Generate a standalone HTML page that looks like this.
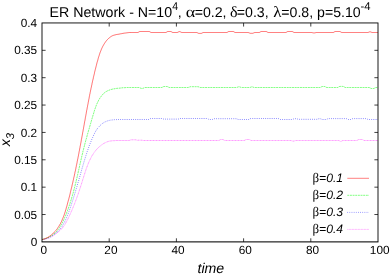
<!DOCTYPE html>
<html><head><meta charset="utf-8"><style>
html,body{margin:0;padding:0;background:#fff;}
svg{display:block;font-family:"Liberation Sans",sans-serif;will-change:transform;opacity:0.999;}
text{text-rendering:geometricPrecision;}
</style></head><body>
<svg width="392" height="274" viewBox="0 0 392 274">
<g font-size="11.8" fill="#000">
<text x="49.54" y="17.4" font-size="14.2">ER Network - N=10</text><text transform="translate(172.30,10.1) scale(0.93,1)" font-size="11.3">4</text><text x="177.83" y="17.4" font-size="14.13">,</text><text transform="translate(185.71,17.4) scale(1.17,1)" font-family="Liberation Serif" font-size="15.5">α</text><text x="194.70" y="17.4" font-size="14.13">=0.2,</text><text transform="translate(230.09,17.4) scale(1.04,1)" font-family="Liberation Serif" font-size="15.4">δ</text><text x="236.80" y="17.4" font-size="14.13">=0.3,</text><text transform="translate(273.16,17.4) scale(1.1,1)" font-family="Liberation Serif" font-size="15.5">λ</text><text x="281.30" y="17.4" font-size="14.13">=0.8, p=5.10</text><text transform="translate(360.50,10.1) scale(1.0,1)" font-size="11.3">-4</text>
<text x="43.7" y="253.55" text-anchor="middle">0</text><text x="110.9" y="253.55" text-anchor="middle">20</text><text x="178.1" y="253.55" text-anchor="middle">40</text><text x="245.3" y="253.55" text-anchor="middle">60</text><text x="312.5" y="253.55" text-anchor="middle">80</text><text x="379.7" y="253.55" text-anchor="middle">100</text><text x="37.2" y="246.0" text-anchor="end">0</text><text x="37.2" y="218.6" text-anchor="end">0.05</text><text x="37.2" y="191.3" text-anchor="end">0.1</text><text x="37.2" y="163.9" text-anchor="end">0.15</text><text x="37.2" y="136.5" text-anchor="end">0.2</text><text x="37.2" y="109.2" text-anchor="end">0.25</text><text x="37.2" y="81.8" text-anchor="end">0.3</text><text x="37.2" y="54.4" text-anchor="end">0.35</text><text x="37.2" y="27.0" text-anchor="end">0.4</text>
<text x="210.8" y="272.8" text-anchor="middle" font-style="italic" font-size="14.13">time</text>
<text transform="translate(9.8,139.5) rotate(-90)" text-anchor="middle" font-style="italic" font-size="14.13">x<tspan dy="4.2" font-size="11.3">3</tspan></text>
<text x="343.1" y="182.3" text-anchor="end" font-size="12.2" font-style="italic">=0.1</text><text transform="translate(312.50,182.3) scale(1.0,1)" font-family="Liberation Serif" font-size="13">β</text><path d="M347.3,178.3 H369" stroke="#ff0000" stroke-width="0.5"  fill="none"/><text x="343.1" y="199.3" text-anchor="end" font-size="12.2" font-style="italic">=0.2</text><text transform="translate(312.50,199.3) scale(1.0,1)" font-family="Liberation Serif" font-size="13">β</text><path d="M347.3,195.3 H369" stroke="#00ff00" stroke-width="0.5" stroke-dasharray="1.95 0.7" fill="none"/><text x="343.1" y="216.4" text-anchor="end" font-size="12.2" font-style="italic">=0.3</text><text transform="translate(312.50,216.4) scale(1.0,1)" font-family="Liberation Serif" font-size="13">β</text><path d="M347.3,212.4 H369" stroke="#0000ff" stroke-width="0.5" stroke-dasharray="0.75 1.4" fill="none"/><text x="343.1" y="233.4" text-anchor="end" font-size="12.2" font-style="italic">=0.4</text><text transform="translate(312.50,233.4) scale(1.0,1)" font-family="Liberation Serif" font-size="13">β</text><path d="M347.3,229.4 H369" stroke="#ff00ff" stroke-width="0.33" stroke-dasharray="1.0 0.5" fill="none"/>
</g>
<path d="M42.2,239.5 L43.0,239.4 L43.9,239.4 L44.7,239.2 L45.5,239.1 L46.2,238.9 L47.0,238.7 L47.8,238.4 L48.5,238.2 L49.3,237.9 L50.0,237.6 L50.7,237.2 L51.4,236.8 L52.1,236.4 L52.8,236.0 L53.5,235.6 L54.2,235.1 L54.8,234.6 L55.5,234.1 L56.2,233.6 L56.8,233.1 L57.4,232.6 L58.1,232.0 L58.7,231.5 L59.3,231.0 L59.9,230.5 L60.5,230.0 L61.0,229.4 L61.6,228.9 L62.1,228.3 L62.6,227.7 L63.1,227.0 L63.6,226.4 L64.1,225.7 L64.5,225.1 L65.0,224.4 L65.4,223.7 L65.8,222.9 L66.2,222.2 L66.6,221.5 L67.0,220.7 L67.4,220.0 L67.8,219.2 L68.1,218.5 L68.5,217.7 L68.8,217.0 L69.2,216.2 L69.5,215.5 L69.9,214.7 L70.2,214.0 L70.6,213.2 L70.9,212.5 L71.2,211.7 L71.5,211.0 L71.9,210.3 L72.2,209.5 L72.5,208.8 L72.8,208.1 L73.1,207.3 L73.4,206.6 L73.7,205.8 L74.0,205.1 L74.3,204.4 L74.6,203.6 L74.9,202.9 L75.1,202.2 L75.4,201.4 L75.7,200.7 L76.0,200.0 L76.3,199.2 L76.5,198.5 L76.8,197.7 L77.1,197.0 L77.3,196.3 L77.6,195.5 L77.9,194.8 L78.1,194.0 L78.4,193.3 L78.6,192.5 L78.9,191.8 L79.1,191.1 L79.4,190.3 L79.6,189.5 L79.9,188.8 L80.1,188.0 L80.4,187.3 L80.6,186.5 L80.9,185.7 L81.1,185.0 L81.4,184.2 L81.6,183.4 L81.9,182.7 L82.1,181.9 L82.3,181.1 L82.6,180.3 L82.8,179.5 L83.1,178.8 L83.3,178.0 L83.6,177.2 L83.8,176.4 L84.1,175.6 L84.3,174.8 L84.6,174.0 L84.8,173.2 L85.1,172.4 L85.3,171.6 L85.6,170.8 L85.9,170.0 L86.1,169.2 L86.4,168.4 L86.7,167.6 L87.0,166.8 L87.3,166.0 L87.6,165.3 L87.9,164.5 L88.2,163.7 L88.5,163.0 L88.8,162.2 L89.2,161.4 L89.5,160.7 L89.9,159.9 L90.2,159.2 L90.6,158.5 L91.0,157.8 L91.3,157.0 L91.7,156.3 L92.1,155.6 L92.6,155.0 L93.0,154.3 L93.4,153.6 L93.9,152.9 L94.3,152.3 L94.8,151.7 L95.3,151.0 L95.8,150.4 L96.3,149.8 L96.8,149.2 L97.4,148.6 L97.9,148.1 L98.5,147.5 L99.0,147.0 L99.6,146.5 L100.3,146.0 L100.9,145.5 L101.5,145.0 L102.2,144.5 L102.9,144.1 L103.5,143.6 L104.3,143.2 L105.0,142.8 L105.7,142.5 L106.5,142.1 L107.2,141.8 L108.0,141.6 L108.8,141.3 L109.6,141.1 L110.4,141.0 L111.2,140.9 L112.0,140.8 L112.8,140.7 L113.6,140.7 L114.4,140.7 L115.2,140.6 L116.0,140.5 L117.5,140.5 L118.0,140.5 L118.5,140.5 L119.0,140.5 L119.5,140.5 L120.0,140.5 L120.5,140.5 L121.0,140.5 L121.5,140.5 L122.0,140.5 L122.5,140.5 L123.0,140.5 L123.5,140.5 L124.0,140.5 L124.5,140.5 L125.0,140.5 L125.5,140.5 L126.0,140.5 L126.5,140.5 L127.0,140.5 L127.5,140.5 L128.0,140.5 L128.5,140.5 L129.0,140.5 L129.5,140.4 L130.0,140.3 L130.5,140.0 L131.0,139.9 L131.5,139.8 L132.0,139.8 L132.5,139.8 L133.0,139.8 L133.5,139.8 L134.0,139.8 L134.5,139.8 L135.0,139.8 L135.5,139.8 L136.0,139.9 L136.5,140.0 L137.0,140.2 L137.5,140.3 L138.0,140.3 L138.5,140.2 L139.0,140.2 L139.5,140.2 L140.0,140.2 L140.5,140.2 L141.0,140.2 L141.5,140.2 L142.0,140.2 L142.5,140.3 L143.0,140.4 L143.5,140.5 L144.0,140.5 L144.5,140.5 L145.0,140.5 L145.5,140.5 L146.0,140.5 L146.5,140.5 L147.0,140.5 L147.5,140.5 L148.0,140.5 L148.5,140.5 L149.0,140.5 L149.5,140.5 L150.0,140.5 L150.5,140.5 L151.0,140.5 L151.5,140.5 L152.0,140.5 L152.5,140.5 L153.0,140.5 L153.5,140.5 L154.0,140.5 L154.5,140.5 L155.0,140.5 L155.5,140.5 L156.0,140.5 L156.5,140.5 L157.0,140.5 L157.5,140.5 L158.0,140.5 L158.5,140.5 L159.0,140.5 L159.5,140.5 L160.0,140.5 L160.5,140.5 L161.0,140.5 L161.5,140.5 L162.0,140.5 L162.5,140.5 L163.0,140.5 L163.5,140.5 L164.0,140.5 L164.5,140.5 L165.0,140.5 L165.5,140.5 L166.0,140.5 L166.5,140.5 L167.0,140.5 L167.5,140.5 L168.0,140.5 L168.5,140.5 L169.0,140.5 L169.5,140.5 L170.0,140.5 L170.5,140.5 L171.0,140.5 L171.5,140.5 L172.0,140.5 L172.5,140.5 L173.0,140.5 L173.5,140.5 L174.0,140.5 L174.5,140.5 L175.0,140.5 L175.5,140.5 L176.0,140.5 L176.5,140.5 L177.0,140.5 L177.5,140.5 L178.0,140.5 L178.5,140.5 L179.0,140.5 L179.5,140.5 L180.0,140.5 L180.5,140.5 L181.0,140.5 L181.5,140.5 L182.0,140.5 L182.5,140.5 L183.0,140.5 L183.5,140.5 L184.0,140.5 L184.5,140.5 L185.0,140.5 L185.5,140.5 L186.0,140.5 L186.5,140.5 L187.0,140.5 L187.5,140.5 L188.0,140.5 L188.5,140.5 L189.0,140.5 L189.5,140.5 L190.0,140.5 L190.5,140.5 L191.0,140.5 L191.5,140.5 L192.0,140.5 L192.5,140.5 L193.0,140.5 L193.5,140.5 L194.0,140.5 L194.5,140.5 L195.0,140.5 L195.5,140.5 L196.0,140.5 L196.5,140.5 L197.0,140.5 L197.5,140.5 L198.0,140.5 L198.5,140.5 L199.0,140.5 L199.5,140.5 L200.0,140.5 L200.5,140.5 L201.0,140.5 L201.5,140.5 L202.0,140.5 L202.5,140.5 L203.0,140.5 L203.5,140.5 L204.0,140.5 L204.5,140.5 L205.0,140.5 L205.5,140.5 L206.0,140.5 L206.5,140.5 L207.0,140.5 L207.5,140.5 L208.0,140.5 L208.5,140.5 L209.0,140.5 L209.5,140.5 L210.0,140.5 L210.5,140.5 L211.0,140.5 L211.5,140.5 L212.0,140.5 L212.5,140.5 L213.0,140.5 L213.5,140.5 L214.0,140.5 L214.5,140.5 L215.0,140.5 L215.5,140.5 L216.0,140.5 L216.5,140.5 L217.0,140.5 L217.5,140.5 L218.0,140.5 L218.5,140.5 L219.0,140.4 L219.5,140.2 L220.0,139.8 L220.5,139.6 L221.0,139.5 L221.5,139.5 L222.0,139.5 L222.5,139.5 L223.0,139.6 L223.5,139.8 L224.0,140.2 L224.5,140.4 L225.0,140.5 L225.5,140.5 L226.0,140.5 L226.5,140.5 L227.0,140.5 L227.5,140.5 L228.0,140.5 L228.5,140.5 L229.0,140.5 L229.5,140.5 L230.0,140.5 L230.5,140.5 L231.0,140.5 L231.5,140.5 L232.0,140.5 L232.5,140.5 L233.0,140.5 L233.5,140.5 L234.0,140.5 L234.5,140.5 L235.0,140.5 L235.5,140.5 L236.0,140.5 L236.5,140.5 L237.0,140.5 L237.5,140.5 L238.0,140.5 L238.5,140.5 L239.0,140.5 L239.5,140.5 L240.0,140.5 L240.5,140.5 L241.0,140.5 L241.5,140.5 L242.0,140.5 L242.5,140.5 L243.0,140.5 L243.5,140.5 L244.0,140.5 L244.5,140.4 L245.0,140.2 L245.5,139.8 L246.0,139.6 L246.5,139.5 L247.0,139.5 L247.5,139.5 L248.0,139.5 L248.5,139.5 L249.0,139.5 L249.5,139.6 L250.0,139.8 L250.5,140.2 L251.0,140.4 L251.5,140.5 L252.0,140.5 L252.5,140.5 L253.0,140.5 L253.5,140.5 L254.0,140.5 L254.5,140.5 L255.0,140.5 L255.5,140.5 L256.0,140.5 L256.5,140.5 L257.0,140.5 L257.5,140.5 L258.0,140.5 L258.5,140.5 L259.0,140.5 L259.5,140.5 L260.0,140.5 L260.5,140.5 L261.0,140.5 L261.5,140.5 L262.0,140.5 L262.5,140.5 L263.0,140.5 L263.5,140.5 L264.0,140.5 L264.5,140.5 L265.0,140.5 L265.5,140.5 L266.0,140.5 L266.5,140.5 L267.0,140.5 L267.5,140.5 L268.0,140.5 L268.5,140.5 L269.0,140.5 L269.5,140.5 L270.0,140.5 L270.5,140.5 L271.0,140.5 L271.5,140.5 L272.0,140.5 L272.5,140.5 L273.0,140.5 L273.5,140.5 L274.0,140.5 L274.5,140.5 L275.0,140.5 L275.5,140.5 L276.0,140.5 L276.5,140.5 L277.0,140.5 L277.5,140.5 L278.0,140.5 L278.5,140.5 L279.0,140.5 L279.5,140.5 L280.0,140.5 L280.5,140.5 L281.0,140.5 L281.5,140.5 L282.0,140.5 L282.5,140.5 L283.0,140.5 L283.5,140.5 L284.0,140.5 L284.5,140.5 L285.0,140.5 L285.5,140.5 L286.0,140.5 L286.5,140.5 L287.0,140.5 L287.5,140.5 L288.0,140.5 L288.5,140.5 L289.0,140.5 L289.5,140.5 L290.0,140.5 L290.5,140.5 L291.0,140.6 L291.5,140.7 L292.0,140.9 L292.5,141.0 L293.0,141.1 L293.5,141.1 L294.0,141.0 L294.5,140.9 L295.0,140.7 L295.5,140.6 L296.0,140.5 L296.5,140.5 L297.0,140.5 L297.5,140.5 L298.0,140.5 L298.5,140.5 L299.0,140.5 L299.5,140.5 L300.0,140.5 L300.5,140.5 L301.0,140.5 L301.5,140.5 L302.0,140.5 L302.5,140.5 L303.0,140.5 L303.5,140.5 L304.0,140.5 L304.5,140.5 L305.0,140.5 L305.5,140.5 L306.0,140.5 L306.5,140.5 L307.0,140.5 L307.5,140.5 L308.0,140.5 L308.5,140.5 L309.0,140.5 L309.5,140.5 L310.0,140.5 L310.5,140.5 L311.0,140.5 L311.5,140.5 L312.0,140.5 L312.5,140.5 L313.0,140.5 L313.5,140.5 L314.0,140.5 L314.5,140.5 L315.0,140.5 L315.5,140.5 L316.0,140.5 L316.5,140.5 L317.0,140.5 L317.5,140.5 L318.0,140.5 L318.5,140.5 L319.0,140.5 L319.5,140.5 L320.0,140.5 L320.5,140.5 L321.0,140.5 L321.5,140.5 L322.0,140.5 L322.5,140.5 L323.0,140.5 L323.5,140.5 L324.0,140.5 L324.5,140.5 L325.0,140.5 L325.5,140.5 L326.0,140.5 L326.5,140.5 L327.0,140.5 L327.5,140.5 L328.0,140.5 L328.5,140.5 L329.0,140.5 L329.5,140.5 L330.0,140.5 L330.5,140.5 L331.0,140.5 L331.5,140.5 L332.0,140.5 L332.5,140.5 L333.0,140.5 L333.5,140.5 L334.0,140.5 L334.5,140.5 L335.0,140.5 L335.5,140.5 L336.0,140.5 L336.5,140.5 L337.0,140.5 L337.5,140.5 L338.0,140.5 L338.5,140.5 L339.0,140.6 L339.5,140.8 L340.0,141.2 L340.5,141.4 L341.0,141.4 L341.5,141.2 L342.0,140.8 L342.5,140.6 L343.0,140.5 L343.5,140.5 L344.0,140.5 L344.5,140.5 L345.0,140.5 L345.5,140.5 L346.0,140.5 L346.5,140.5 L347.0,140.5 L347.5,140.5 L348.0,140.5 L348.5,140.5 L349.0,140.5 L349.5,140.5 L350.0,140.5 L350.5,140.5 L351.0,140.5 L351.5,140.5 L352.0,140.5 L352.5,140.5 L353.0,140.5 L353.5,140.5 L354.0,140.5 L354.5,140.5 L355.0,140.5 L355.5,140.5 L356.0,140.5 L356.5,140.5 L357.0,140.4 L357.5,140.2 L358.0,139.8 L358.5,139.6 L359.0,139.5 L359.5,139.5 L360.0,139.5 L360.5,139.5 L361.0,139.5 L361.5,139.5 L362.0,139.5 L362.5,139.6 L363.0,139.8 L363.5,140.2 L364.0,140.4 L364.5,140.5 L365.0,140.5 L365.5,140.5 L366.0,140.5 L366.5,140.5 L367.0,140.5 L367.5,140.5 L368.0,140.5 L368.5,140.5 L369.0,140.5 L369.5,140.5 L370.0,140.5 L370.5,140.5 L371.0,140.5 L371.5,140.5 L372.0,140.5 L372.5,140.5 L373.0,140.5 L373.5,140.5 L374.0,140.5 L374.5,140.5 L375.0,140.5 L375.5,140.5 L376.0,140.5 L376.5,140.5 L377.0,140.5 L377.5,140.5 L378.0,140.5" stroke="#ff00ff" stroke-width="0.45" stroke-dasharray="1.0 0.5" fill="none" stroke-linejoin="round"/><path d="M42.2,239.5 L43.0,239.4 L43.8,239.2 L44.6,239.0 L45.4,238.8 L46.1,238.6 L46.9,238.3 L47.6,238.1 L48.4,237.7 L49.1,237.4 L49.9,237.1 L50.6,236.7 L51.3,236.3 L52.0,235.9 L52.7,235.5 L53.4,235.0 L54.0,234.6 L54.7,234.1 L55.4,233.6 L56.0,233.1 L56.6,232.6 L57.2,232.1 L57.8,231.6 L58.4,231.0 L58.9,230.4 L59.5,229.8 L60.0,229.2 L60.5,228.6 L61.0,227.9 L61.4,227.3 L61.9,226.6 L62.3,225.9 L62.7,225.2 L63.1,224.5 L63.5,223.8 L63.9,223.1 L64.3,222.4 L64.7,221.7 L65.0,221.0 L65.4,220.2 L65.7,219.5 L66.1,218.8 L66.4,218.1 L66.7,217.3 L67.0,216.6 L67.3,215.9 L67.6,215.1 L67.9,214.4 L68.2,213.6 L68.5,212.9 L68.7,212.2 L69.0,211.4 L69.3,210.7 L69.6,209.9 L69.8,209.1 L70.1,208.4 L70.3,207.6 L70.6,206.9 L70.8,206.1 L71.1,205.3 L71.3,204.6 L71.6,203.8 L71.8,203.0 L72.1,202.3 L72.3,201.5 L72.6,200.7 L72.8,200.0 L73.1,199.2 L73.3,198.4 L73.6,197.6 L73.8,196.8 L74.0,196.1 L74.3,195.3 L74.5,194.5 L74.8,193.7 L75.0,192.9 L75.2,192.2 L75.5,191.4 L75.7,190.6 L75.9,189.8 L76.2,189.0 L76.4,188.2 L76.6,187.5 L76.9,186.7 L77.1,185.9 L77.3,185.1 L77.5,184.3 L77.8,183.5 L78.0,182.8 L78.2,182.0 L78.5,181.2 L78.7,180.4 L78.9,179.6 L79.1,178.8 L79.4,178.1 L79.6,177.3 L79.8,176.5 L80.0,175.7 L80.2,174.9 L80.5,174.2 L80.7,173.4 L80.9,172.6 L81.1,171.8 L81.3,171.1 L81.6,170.3 L81.8,169.5 L82.0,168.7 L82.2,168.0 L82.4,167.2 L82.7,166.4 L82.9,165.7 L83.1,164.9 L83.3,164.1 L83.6,163.4 L83.8,162.6 L84.0,161.8 L84.2,161.1 L84.5,160.3 L84.7,159.5 L84.9,158.8 L85.2,158.0 L85.4,157.3 L85.6,156.5 L85.9,155.7 L86.1,155.0 L86.4,154.2 L86.6,153.5 L86.9,152.7 L87.1,151.9 L87.4,151.2 L87.6,150.4 L87.9,149.7 L88.1,148.9 L88.4,148.2 L88.7,147.4 L89.0,146.7 L89.2,145.9 L89.5,145.1 L89.8,144.4 L90.1,143.6 L90.4,142.9 L90.7,142.1 L91.0,141.4 L91.3,140.6 L91.6,139.9 L91.9,139.1 L92.2,138.4 L92.6,137.6 L92.9,136.9 L93.2,136.1 L93.6,135.4 L93.9,134.6 L94.3,133.9 L94.6,133.2 L95.0,132.4 L95.4,131.7 L95.8,131.0 L96.3,130.3 L96.7,129.6 L97.2,129.0 L97.6,128.3 L98.1,127.7 L98.6,127.1 L99.2,126.5 L99.7,125.9 L100.3,125.3 L100.9,124.8 L101.5,124.2 L102.1,123.7 L102.8,123.3 L103.5,122.8 L104.1,122.4 L104.8,122.0 L105.6,121.7 L106.3,121.4 L107.0,121.1 L107.8,120.8 L108.6,120.6 L109.4,120.4 L110.2,120.2 L111.0,120.1 L111.8,120.0 L112.6,119.9 L113.4,119.8 L114.2,119.7 L115.0,119.6 L116.5,119.6 L117.0,119.6 L117.5,119.6 L118.0,119.5 L118.5,119.5 L119.0,119.5 L119.5,119.5 L120.0,119.5 L120.5,119.5 L121.0,119.5 L121.5,119.5 L122.0,119.5 L122.5,119.5 L123.0,119.5 L123.5,119.5 L124.0,119.5 L124.5,119.5 L125.0,119.5 L125.5,119.5 L126.0,119.5 L126.5,119.5 L127.0,119.5 L127.5,119.5 L128.0,119.5 L128.5,119.5 L129.0,119.5 L129.5,119.5 L130.0,119.5 L130.5,119.5 L131.0,119.5 L131.5,119.5 L132.0,119.5 L132.5,119.5 L133.0,119.5 L133.5,119.5 L134.0,119.5 L134.5,119.5 L135.0,119.5 L135.5,119.5 L136.0,119.5 L136.5,119.5 L137.0,119.5 L137.5,119.5 L138.0,119.5 L138.5,119.5 L139.0,119.5 L139.5,119.5 L140.0,119.5 L140.5,119.5 L141.0,119.5 L141.5,119.5 L142.0,119.5 L142.5,119.5 L143.0,119.5 L143.5,119.5 L144.0,119.5 L144.5,119.5 L145.0,119.5 L145.5,119.5 L146.0,119.5 L146.5,119.5 L147.0,119.5 L147.5,119.5 L148.0,119.5 L148.5,119.5 L149.0,119.4 L149.5,119.2 L150.0,118.8 L150.5,118.6 L151.0,118.5 L151.5,118.5 L152.0,118.5 L152.5,118.5 L153.0,118.5 L153.5,118.5 L154.0,118.5 L154.5,118.5 L155.0,118.5 L155.5,118.5 L156.0,118.5 L156.5,118.5 L157.0,118.5 L157.5,118.5 L158.0,118.5 L158.5,118.5 L159.0,118.5 L159.5,118.5 L160.0,118.5 L160.5,118.5 L161.0,118.5 L161.5,118.5 L162.0,118.5 L162.5,118.6 L163.0,118.8 L163.5,119.0 L164.0,119.1 L164.5,119.1 L165.0,119.1 L165.5,119.1 L166.0,119.1 L166.5,119.1 L167.0,119.1 L167.5,119.1 L168.0,119.1 L168.5,119.1 L169.0,119.1 L169.5,119.1 L170.0,119.1 L170.5,119.1 L171.0,119.1 L171.5,119.1 L172.0,119.1 L172.5,119.1 L173.0,119.1 L173.5,119.1 L174.0,119.1 L174.5,119.1 L175.0,119.1 L175.5,119.1 L176.0,119.1 L176.5,119.1 L177.0,119.1 L177.5,119.1 L178.0,119.1 L178.5,119.0 L179.0,118.8 L179.5,118.6 L180.0,118.5 L180.5,118.5 L181.0,118.5 L181.5,118.5 L182.0,118.5 L182.5,118.5 L183.0,118.5 L183.5,118.5 L184.0,118.5 L184.5,118.5 L185.0,118.5 L185.5,118.5 L186.0,118.5 L186.5,118.5 L187.0,118.5 L187.5,118.5 L188.0,118.5 L188.5,118.5 L189.0,118.5 L189.5,118.5 L190.0,118.5 L190.5,118.5 L191.0,118.5 L191.5,118.5 L192.0,118.5 L192.5,118.5 L193.0,118.5 L193.5,118.5 L194.0,118.5 L194.5,118.5 L195.0,118.5 L195.5,118.5 L196.0,118.5 L196.5,118.5 L197.0,118.5 L197.5,118.5 L198.0,118.5 L198.5,118.5 L199.0,118.5 L199.5,118.5 L200.0,118.5 L200.5,118.5 L201.0,118.5 L201.5,118.5 L202.0,118.5 L202.5,118.5 L203.0,118.5 L203.5,118.5 L204.0,118.5 L204.5,118.5 L205.0,118.5 L205.5,118.5 L206.0,118.5 L206.5,118.5 L207.0,118.5 L207.5,118.6 L208.0,118.8 L208.5,119.2 L209.0,119.4 L209.5,119.5 L210.0,119.5 L210.5,119.5 L211.0,119.5 L211.5,119.5 L212.0,119.5 L212.5,119.4 L213.0,119.2 L213.5,119.0 L214.0,118.8 L214.5,118.7 L215.0,118.7 L215.5,118.7 L216.0,118.7 L216.5,118.7 L217.0,118.7 L217.5,118.7 L218.0,118.7 L218.5,118.7 L219.0,118.7 L219.5,118.7 L220.0,118.7 L220.5,118.7 L221.0,118.7 L221.5,118.7 L222.0,118.7 L222.5,118.7 L223.0,118.7 L223.5,118.7 L224.0,118.7 L224.5,118.7 L225.0,118.7 L225.5,118.7 L226.0,118.7 L226.5,118.7 L227.0,118.7 L227.5,118.7 L228.0,118.7 L228.5,118.7 L229.0,118.7 L229.5,118.7 L230.0,118.7 L230.5,118.7 L231.0,118.7 L231.5,118.7 L232.0,118.7 L232.5,118.7 L233.0,118.7 L233.5,118.7 L234.0,118.7 L234.5,118.7 L235.0,118.7 L235.5,118.7 L236.0,118.7 L236.5,118.8 L237.0,119.0 L237.5,119.2 L238.0,119.4 L238.5,119.5 L239.0,119.5 L239.5,119.5 L240.0,119.5 L240.5,119.5 L241.0,119.5 L241.5,119.5 L242.0,119.5 L242.5,119.5 L243.0,119.5 L243.5,119.5 L244.0,119.5 L244.5,119.5 L245.0,119.5 L245.5,119.5 L246.0,119.5 L246.5,119.5 L247.0,119.5 L247.5,119.5 L248.0,119.5 L248.5,119.5 L249.0,119.4 L249.5,119.2 L250.0,118.8 L250.5,118.6 L251.0,118.5 L251.5,118.5 L252.0,118.5 L252.5,118.5 L253.0,118.5 L253.5,118.5 L254.0,118.5 L254.5,118.5 L255.0,118.5 L255.5,118.5 L256.0,118.5 L256.5,118.5 L257.0,118.5 L257.5,118.5 L258.0,118.5 L258.5,118.5 L259.0,118.5 L259.5,118.5 L260.0,118.5 L260.5,118.5 L261.0,118.5 L261.5,118.5 L262.0,118.5 L262.5,118.5 L263.0,118.5 L263.5,118.5 L264.0,118.5 L264.5,118.5 L265.0,118.5 L265.5,118.5 L266.0,118.5 L266.5,118.5 L267.0,118.5 L267.5,118.5 L268.0,118.5 L268.5,118.5 L269.0,118.5 L269.5,118.5 L270.0,118.5 L270.5,118.5 L271.0,118.5 L271.5,118.5 L272.0,118.5 L272.5,118.5 L273.0,118.5 L273.5,118.5 L274.0,118.5 L274.5,118.5 L275.0,118.5 L275.5,118.5 L276.0,118.5 L276.5,118.5 L277.0,118.5 L277.5,118.5 L278.0,118.5 L278.5,118.6 L279.0,118.8 L279.5,119.2 L280.0,119.4 L280.5,119.5 L281.0,119.5 L281.5,119.5 L282.0,119.5 L282.5,119.5 L283.0,119.5 L283.5,119.5 L284.0,119.5 L284.5,119.5 L285.0,119.5 L285.5,119.5 L286.0,119.5 L286.5,119.5 L287.0,119.5 L287.5,119.5 L288.0,119.5 L288.5,119.5 L289.0,119.5 L289.5,119.5 L290.0,119.5 L290.5,119.5 L291.0,119.5 L291.5,119.5 L292.0,119.5 L292.5,119.4 L293.0,119.2 L293.5,119.0 L294.0,118.8 L294.5,118.7 L295.0,118.7 L295.5,118.7 L296.0,118.7 L296.5,118.7 L297.0,118.8 L297.5,119.0 L298.0,119.2 L298.5,119.3 L299.0,119.4 L299.5,119.3 L300.0,119.3 L300.5,119.3 L301.0,119.3 L301.5,119.3 L302.0,119.3 L302.5,119.3 L303.0,119.3 L303.5,119.3 L304.0,119.3 L304.5,119.3 L305.0,119.3 L305.5,119.3 L306.0,119.3 L306.5,119.3 L307.0,119.3 L307.5,119.3 L308.0,119.3 L308.5,119.3 L309.0,119.3 L309.5,119.3 L310.0,119.3 L310.5,119.3 L311.0,119.3 L311.5,119.3 L312.0,119.3 L312.5,119.3 L313.0,119.3 L313.5,119.3 L314.0,119.3 L314.5,119.3 L315.0,119.3 L315.5,119.3 L316.0,119.3 L316.5,119.3 L317.0,119.3 L317.5,119.2 L318.0,118.9 L318.5,118.8 L319.0,118.7 L319.5,118.7 L320.0,118.7 L320.5,118.8 L321.0,119.0 L321.5,119.2 L322.0,119.4 L322.5,119.5 L323.0,119.5 L323.5,119.5 L324.0,119.5 L324.5,119.5 L325.0,119.5 L325.5,119.5 L326.0,119.5 L326.5,119.4 L327.0,119.2 L327.5,118.9 L328.0,118.7 L328.5,118.6 L329.0,118.6 L329.5,118.6 L330.0,118.6 L330.5,118.6 L331.0,118.6 L331.5,118.6 L332.0,118.6 L332.5,118.6 L333.0,118.6 L333.5,118.6 L334.0,118.6 L334.5,118.6 L335.0,118.6 L335.5,118.6 L336.0,118.6 L336.5,118.6 L337.0,118.6 L337.5,118.6 L338.0,118.6 L338.5,118.6 L339.0,118.6 L339.5,118.6 L340.0,118.6 L340.5,118.6 L341.0,118.6 L341.5,118.6 L342.0,118.6 L342.5,118.6 L343.0,118.6 L343.5,118.6 L344.0,118.6 L344.5,118.6 L345.0,118.6 L345.5,118.6 L346.0,118.6 L346.5,118.7 L347.0,118.9 L347.5,119.2 L348.0,119.4 L348.5,119.5 L349.0,119.5 L349.5,119.5 L350.0,119.5 L350.5,119.5 L351.0,119.4 L351.5,119.2 L352.0,118.9 L352.5,118.7 L353.0,118.6 L353.5,118.6 L354.0,118.6 L354.5,118.6 L355.0,118.6 L355.5,118.6 L356.0,118.6 L356.5,118.6 L357.0,118.6 L357.5,118.6 L358.0,118.6 L358.5,118.6 L359.0,118.6 L359.5,118.6 L360.0,118.6 L360.5,118.6 L361.0,118.6 L361.5,118.6 L362.0,118.6 L362.5,118.6 L363.0,118.6 L363.5,118.6 L364.0,118.6 L364.5,118.6 L365.0,118.6 L365.5,118.6 L366.0,118.6 L366.5,118.7 L367.0,118.9 L367.5,119.2 L368.0,119.4 L368.5,119.5 L369.0,119.5 L369.5,119.5 L370.0,119.5 L370.5,119.5 L371.0,119.5 L371.5,119.5 L372.0,119.5 L372.5,119.5 L373.0,119.5 L373.5,119.5 L374.0,119.5 L374.5,119.5 L375.0,119.5 L375.5,119.5 L376.0,119.5 L376.5,119.5 L377.0,119.5 L377.5,119.5 L378.0,119.5" stroke="#0000ff" stroke-width="0.62" stroke-dasharray="0.75 1.4" fill="none" stroke-linejoin="round"/><path d="M42.2,239.5 L43.0,239.3 L43.7,239.1 L44.5,238.9 L45.3,238.7 L46.0,238.4 L46.8,238.1 L47.5,237.8 L48.3,237.5 L49.0,237.1 L49.7,236.7 L50.4,236.3 L51.1,235.9 L51.8,235.4 L52.5,235.0 L53.1,234.5 L53.8,234.0 L54.4,233.5 L55.0,233.0 L55.6,232.4 L56.1,231.8 L56.7,231.3 L57.2,230.7 L57.7,230.1 L58.2,229.4 L58.7,228.8 L59.1,228.2 L59.6,227.5 L60.0,226.8 L60.4,226.2 L60.8,225.5 L61.2,224.8 L61.6,224.1 L62.0,223.4 L62.4,222.7 L62.7,221.9 L63.1,221.2 L63.4,220.5 L63.7,219.8 L64.1,219.0 L64.4,218.3 L64.7,217.5 L65.0,216.8 L65.4,216.1 L65.7,215.3 L66.0,214.6 L66.3,213.8 L66.6,213.1 L66.8,212.3 L67.1,211.6 L67.4,210.8 L67.7,210.1 L68.0,209.3 L68.3,208.5 L68.5,207.8 L68.8,207.0 L69.0,206.3 L69.3,205.5 L69.6,204.7 L69.8,204.0 L70.1,203.2 L70.3,202.4 L70.6,201.7 L70.8,200.9 L71.0,200.1 L71.3,199.4 L71.5,198.6 L71.7,197.8 L72.0,197.0 L72.2,196.3 L72.4,195.5 L72.6,194.7 L72.8,193.9 L73.1,193.2 L73.3,192.4 L73.5,191.6 L73.7,190.8 L73.9,190.0 L74.1,189.3 L74.3,188.5 L74.5,187.7 L74.7,186.9 L74.9,186.1 L75.1,185.4 L75.3,184.6 L75.5,183.8 L75.7,183.0 L75.9,182.2 L76.1,181.4 L76.2,180.7 L76.4,179.9 L76.6,179.1 L76.8,178.3 L77.0,177.5 L77.2,176.7 L77.3,175.9 L77.5,175.2 L77.7,174.4 L77.9,173.6 L78.1,172.8 L78.2,172.0 L78.4,171.2 L78.6,170.4 L78.8,169.6 L79.0,168.9 L79.1,168.1 L79.3,167.3 L79.5,166.5 L79.7,165.7 L79.8,164.9 L80.0,164.1 L80.2,163.4 L80.4,162.6 L80.6,161.8 L80.7,161.0 L80.9,160.2 L81.1,159.4 L81.3,158.6 L81.5,157.9 L81.6,157.1 L81.8,156.3 L82.0,155.5 L82.2,154.7 L82.4,154.0 L82.6,153.2 L82.8,152.4 L82.9,151.6 L83.1,150.8 L83.3,150.1 L83.5,149.3 L83.7,148.5 L83.9,147.7 L84.1,147.0 L84.3,146.2 L84.5,145.4 L84.7,144.6 L84.9,143.9 L85.1,143.1 L85.3,142.3 L85.5,141.5 L85.7,140.8 L85.9,140.0 L86.1,139.2 L86.4,138.5 L86.6,137.7 L86.8,136.9 L87.0,136.2 L87.2,135.4 L87.4,134.6 L87.6,133.8 L87.9,133.1 L88.1,132.3 L88.3,131.5 L88.5,130.8 L88.7,130.0 L89.0,129.2 L89.2,128.5 L89.4,127.7 L89.6,126.9 L89.9,126.1 L90.1,125.4 L90.3,124.6 L90.5,123.8 L90.8,123.1 L91.0,122.3 L91.2,121.5 L91.4,120.7 L91.7,120.0 L91.9,119.2 L92.1,118.4 L92.3,117.7 L92.6,116.9 L92.8,116.1 L93.0,115.3 L93.3,114.5 L93.5,113.8 L93.7,113.0 L94.0,112.2 L94.2,111.4 L94.4,110.7 L94.7,109.9 L94.9,109.1 L95.2,108.4 L95.5,107.6 L95.8,106.8 L96.0,106.1 L96.3,105.3 L96.6,104.6 L96.9,103.8 L97.3,103.1 L97.6,102.4 L98.0,101.6 L98.3,100.9 L98.7,100.2 L99.1,99.5 L99.5,98.8 L99.9,98.1 L100.4,97.4 L100.9,96.8 L101.3,96.1 L101.8,95.5 L102.4,94.8 L102.9,94.2 L103.5,93.7 L104.1,93.1 L104.7,92.6 L105.3,92.1 L106.0,91.7 L106.7,91.3 L107.4,90.9 L108.1,90.6 L108.8,90.3 L109.6,90.0 L110.3,89.7 L111.1,89.5 L111.9,89.3 L112.6,89.1 L113.4,88.9 L114.2,88.8 L115.0,88.7 L115.8,88.5 L116.7,88.4 L117.5,88.3 L118.3,88.3 L119.1,88.2 L119.9,88.1 L120.7,88.0 L121.5,87.9 L122.2,87.8 L123.0,87.7 L124.5,87.7 L125.0,87.6 L125.5,87.6 L126.0,87.5 L126.5,87.5 L127.0,87.5 L127.5,87.5 L128.0,87.5 L128.5,87.5 L129.0,87.5 L129.5,87.5 L130.0,87.5 L130.5,87.5 L131.0,87.5 L131.5,87.5 L132.0,87.5 L132.5,87.5 L133.0,87.5 L133.5,87.5 L134.0,87.5 L134.5,87.5 L135.0,87.5 L135.5,87.5 L136.0,87.5 L136.5,87.5 L137.0,87.5 L137.5,87.5 L138.0,87.5 L138.5,87.5 L139.0,87.5 L139.5,87.6 L140.0,87.8 L140.5,88.1 L141.0,88.3 L141.5,88.4 L142.0,88.4 L142.5,88.4 L143.0,88.3 L143.5,88.1 L144.0,87.8 L144.5,87.6 L145.0,87.5 L145.5,87.5 L146.0,87.5 L146.5,87.5 L147.0,87.5 L147.5,87.5 L148.0,87.5 L148.5,87.5 L149.0,87.5 L149.5,87.5 L150.0,87.5 L150.5,87.5 L151.0,87.5 L151.5,87.5 L152.0,87.5 L152.5,87.5 L153.0,87.5 L153.5,87.5 L154.0,87.5 L154.5,87.5 L155.0,87.5 L155.5,87.5 L156.0,87.5 L156.5,87.5 L157.0,87.5 L157.5,87.5 L158.0,87.5 L158.5,87.5 L159.0,87.5 L159.5,87.5 L160.0,87.5 L160.5,87.5 L161.0,87.5 L161.5,87.5 L162.0,87.4 L162.5,87.2 L163.0,86.8 L163.5,86.6 L164.0,86.5 L164.5,86.5 L165.0,86.5 L165.5,86.5 L166.0,86.5 L166.5,86.5 L167.0,86.5 L167.5,86.6 L168.0,86.8 L168.5,87.2 L169.0,87.4 L169.5,87.5 L170.0,87.5 L170.5,87.5 L171.0,87.5 L171.5,87.5 L172.0,87.5 L172.5,87.5 L173.0,87.5 L173.5,87.5 L174.0,87.5 L174.5,87.5 L175.0,87.5 L175.5,87.5 L176.0,87.5 L176.5,87.5 L177.0,87.5 L177.5,87.5 L178.0,87.5 L178.5,87.5 L179.0,87.5 L179.5,87.5 L180.0,87.5 L180.5,87.5 L181.0,87.5 L181.5,87.5 L182.0,87.5 L182.5,87.5 L183.0,87.5 L183.5,87.5 L184.0,87.5 L184.5,87.5 L185.0,87.5 L185.5,87.5 L186.0,87.5 L186.5,87.5 L187.0,87.5 L187.5,87.5 L188.0,87.5 L188.5,87.4 L189.0,87.2 L189.5,87.0 L190.0,86.8 L190.5,86.7 L191.0,86.7 L191.5,86.7 L192.0,86.7 L192.5,86.7 L193.0,86.7 L193.5,86.7 L194.0,86.7 L194.5,86.7 L195.0,86.7 L195.5,86.7 L196.0,86.7 L196.5,86.7 L197.0,86.7 L197.5,86.7 L198.0,86.7 L198.5,86.8 L199.0,87.0 L199.5,87.2 L200.0,87.4 L200.5,87.5 L201.0,87.5 L201.5,87.5 L202.0,87.5 L202.5,87.5 L203.0,87.5 L203.5,87.5 L204.0,87.5 L204.5,87.5 L205.0,87.5 L205.5,87.5 L206.0,87.5 L206.5,87.5 L207.0,87.5 L207.5,87.5 L208.0,87.5 L208.5,87.5 L209.0,87.5 L209.5,87.5 L210.0,87.5 L210.5,87.5 L211.0,87.5 L211.5,87.5 L212.0,87.5 L212.5,87.5 L213.0,87.5 L213.5,87.5 L214.0,87.5 L214.5,87.5 L215.0,87.5 L215.5,87.5 L216.0,87.5 L216.5,87.5 L217.0,87.5 L217.5,87.5 L218.0,87.5 L218.5,87.5 L219.0,87.5 L219.5,87.5 L220.0,87.5 L220.5,87.5 L221.0,87.5 L221.5,87.5 L222.0,87.5 L222.5,87.5 L223.0,87.5 L223.5,87.5 L224.0,87.5 L224.5,87.5 L225.0,87.5 L225.5,87.5 L226.0,87.5 L226.5,87.5 L227.0,87.5 L227.5,87.5 L228.0,87.5 L228.5,87.5 L229.0,87.5 L229.5,87.5 L230.0,87.5 L230.5,87.5 L231.0,87.5 L231.5,87.5 L232.0,87.5 L232.5,87.5 L233.0,87.5 L233.5,87.5 L234.0,87.5 L234.5,87.5 L235.0,87.5 L235.5,87.5 L236.0,87.5 L236.5,87.5 L237.0,87.4 L237.5,87.2 L238.0,87.0 L238.5,86.8 L239.0,86.7 L239.5,86.8 L240.0,87.0 L240.5,87.2 L241.0,87.4 L241.5,87.5 L242.0,87.5 L242.5,87.5 L243.0,87.5 L243.5,87.5 L244.0,87.5 L244.5,87.5 L245.0,87.5 L245.5,87.5 L246.0,87.5 L246.5,87.5 L247.0,87.5 L247.5,87.5 L248.0,87.5 L248.5,87.5 L249.0,87.5 L249.5,87.5 L250.0,87.4 L250.5,87.3 L251.0,87.0 L251.5,86.9 L252.0,86.8 L252.5,86.9 L253.0,87.0 L253.5,87.3 L254.0,87.4 L254.5,87.5 L255.0,87.5 L255.5,87.5 L256.0,87.5 L256.5,87.5 L257.0,87.5 L257.5,87.5 L258.0,87.5 L258.5,87.5 L259.0,87.5 L259.5,87.5 L260.0,87.5 L260.5,87.5 L261.0,87.5 L261.5,87.5 L262.0,87.5 L262.5,87.5 L263.0,87.5 L263.5,87.5 L264.0,87.5 L264.5,87.5 L265.0,87.5 L265.5,87.5 L266.0,87.5 L266.5,87.5 L267.0,87.5 L267.5,87.5 L268.0,87.5 L268.5,87.5 L269.0,87.5 L269.5,87.5 L270.0,87.5 L270.5,87.5 L271.0,87.5 L271.5,87.5 L272.0,87.5 L272.5,87.5 L273.0,87.5 L273.5,87.5 L274.0,87.5 L274.5,87.5 L275.0,87.5 L275.5,87.5 L276.0,87.5 L276.5,87.5 L277.0,87.5 L277.5,87.5 L278.0,87.5 L278.5,87.5 L279.0,87.5 L279.5,87.5 L280.0,87.5 L280.5,87.5 L281.0,87.5 L281.5,87.5 L282.0,87.5 L282.5,87.5 L283.0,87.5 L283.5,87.5 L284.0,87.5 L284.5,87.5 L285.0,87.5 L285.5,87.5 L286.0,87.5 L286.5,87.5 L287.0,87.5 L287.5,87.5 L288.0,87.5 L288.5,87.5 L289.0,87.5 L289.5,87.5 L290.0,87.5 L290.5,87.5 L291.0,87.5 L291.5,87.5 L292.0,87.5 L292.5,87.5 L293.0,87.5 L293.5,87.5 L294.0,87.5 L294.5,87.5 L295.0,87.5 L295.5,87.5 L296.0,87.5 L296.5,87.5 L297.0,87.5 L297.5,87.5 L298.0,87.5 L298.5,87.5 L299.0,87.5 L299.5,87.5 L300.0,87.5 L300.5,87.5 L301.0,87.5 L301.5,87.5 L302.0,87.5 L302.5,87.5 L303.0,87.5 L303.5,87.5 L304.0,87.5 L304.5,87.5 L305.0,87.5 L305.5,87.5 L306.0,87.5 L306.5,87.5 L307.0,87.5 L307.5,87.5 L308.0,87.5 L308.5,87.5 L309.0,87.5 L309.5,87.5 L310.0,87.5 L310.5,87.5 L311.0,87.5 L311.5,87.5 L312.0,87.5 L312.5,87.5 L313.0,87.5 L313.5,87.5 L314.0,87.5 L314.5,87.5 L315.0,87.5 L315.5,87.5 L316.0,87.5 L316.5,87.5 L317.0,87.5 L317.5,87.5 L318.0,87.5 L318.5,87.5 L319.0,87.5 L319.5,87.5 L320.0,87.5 L320.5,87.4 L321.0,87.2 L321.5,86.8 L322.0,86.6 L322.5,86.5 L323.0,86.5 L323.5,86.5 L324.0,86.5 L324.5,86.5 L325.0,86.6 L325.5,86.8 L326.0,87.2 L326.5,87.4 L327.0,87.5 L327.5,87.5 L328.0,87.5 L328.5,87.5 L329.0,87.5 L329.5,87.5 L330.0,87.5 L330.5,87.5 L331.0,87.5 L331.5,87.5 L332.0,87.5 L332.5,87.5 L333.0,87.5 L333.5,87.5 L334.0,87.5 L334.5,87.5 L335.0,87.5 L335.5,87.5 L336.0,87.5 L336.5,87.5 L337.0,87.5 L337.5,87.5 L338.0,87.4 L338.5,87.1 L339.0,86.8 L339.5,86.5 L340.0,86.4 L340.5,86.4 L341.0,86.4 L341.5,86.4 L342.0,86.4 L342.5,86.4 L343.0,86.4 L343.5,86.5 L344.0,86.8 L344.5,87.1 L345.0,87.4 L345.5,87.5 L346.0,87.5 L346.5,87.5 L347.0,87.5 L347.5,87.5 L348.0,87.5 L348.5,87.5 L349.0,87.5 L349.5,87.5 L350.0,87.5 L350.5,87.5 L351.0,87.5 L351.5,87.5 L352.0,87.5 L352.5,87.5 L353.0,87.5 L353.5,87.5 L354.0,87.5 L354.5,87.5 L355.0,87.5 L355.5,87.5 L356.0,87.5 L356.5,87.5 L357.0,87.5 L357.5,87.5 L358.0,87.5 L358.5,87.5 L359.0,87.5 L359.5,87.5 L360.0,87.5 L360.5,87.5 L361.0,87.5 L361.5,87.5 L362.0,87.5 L362.5,87.5 L363.0,87.5 L363.5,87.5 L364.0,87.5 L364.5,87.5 L365.0,87.5 L365.5,87.5 L366.0,87.5 L366.5,87.5 L367.0,87.5 L367.5,87.5 L368.0,87.5 L368.5,87.5 L369.0,87.5 L369.5,87.6 L370.0,87.8 L370.5,88.2 L371.0,88.4 L371.5,88.5 L372.0,88.5 L372.5,88.5 L373.0,88.5 L373.5,88.5 L374.0,88.4 L374.5,88.2 L375.0,87.8 L375.5,87.6 L376.0,87.5 L376.5,87.5 L377.0,87.5 L377.5,87.5 L378.0,87.5" stroke="#00ff00" stroke-width="0.55" stroke-dasharray="1.95 0.7" fill="none" stroke-linejoin="round"/><path d="M42.2,239.5 L43.0,239.3 L43.8,239.1 L44.5,238.8 L45.3,238.5 L46.0,238.2 L46.8,237.9 L47.5,237.5 L48.2,237.1 L48.9,236.7 L49.5,236.3 L50.2,235.8 L50.8,235.3 L51.5,234.8 L52.1,234.3 L52.7,233.8 L53.3,233.2 L53.9,232.7 L54.4,232.1 L55.0,231.5 L55.5,230.9 L56.0,230.3 L56.5,229.7 L57.0,229.0 L57.5,228.4 L57.9,227.7 L58.4,227.1 L58.8,226.4 L59.2,225.7 L59.6,225.0 L60.0,224.3 L60.4,223.7 L60.8,222.9 L61.1,222.2 L61.5,221.5 L61.8,220.8 L62.1,220.1 L62.4,219.3 L62.7,218.6 L63.0,217.9 L63.3,217.1 L63.6,216.4 L63.9,215.6 L64.2,214.9 L64.4,214.1 L64.7,213.3 L64.9,212.6 L65.2,211.8 L65.4,211.0 L65.6,210.2 L65.9,209.5 L66.1,208.7 L66.3,207.9 L66.5,207.1 L66.8,206.3 L67.0,205.6 L67.2,204.8 L67.4,204.0 L67.6,203.2 L67.8,202.4 L68.0,201.7 L68.2,200.9 L68.5,200.1 L68.7,199.3 L68.9,198.5 L69.1,197.7 L69.3,197.0 L69.5,196.2 L69.7,195.4 L69.9,194.6 L70.1,193.8 L70.3,193.0 L70.4,192.3 L70.6,191.5 L70.8,190.7 L71.0,189.9 L71.2,189.1 L71.4,188.3 L71.6,187.5 L71.8,186.8 L72.0,186.0 L72.1,185.2 L72.3,184.4 L72.5,183.6 L72.7,182.8 L72.9,182.1 L73.0,181.3 L73.2,180.5 L73.4,179.7 L73.6,178.9 L73.7,178.1 L73.9,177.3 L74.1,176.6 L74.3,175.8 L74.4,175.0 L74.6,174.2 L74.8,173.4 L74.9,172.6 L75.1,171.8 L75.3,171.0 L75.5,170.3 L75.6,169.5 L75.8,168.7 L75.9,167.9 L76.1,167.1 L76.3,166.3 L76.4,165.5 L76.6,164.7 L76.8,164.0 L76.9,163.2 L77.1,162.4 L77.2,161.6 L77.4,160.8 L77.5,160.0 L77.7,159.2 L77.9,158.4 L78.0,157.7 L78.2,156.9 L78.3,156.1 L78.5,155.3 L78.6,154.5 L78.8,153.7 L78.9,152.9 L79.1,152.1 L79.2,151.4 L79.4,150.6 L79.5,149.8 L79.7,149.0 L79.8,148.2 L80.0,147.4 L80.1,146.6 L80.3,145.8 L80.4,145.1 L80.6,144.3 L80.7,143.5 L80.9,142.7 L81.0,141.9 L81.2,141.1 L81.3,140.3 L81.4,139.5 L81.6,138.8 L81.7,138.0 L81.9,137.2 L82.0,136.4 L82.2,135.6 L82.3,134.8 L82.5,134.0 L82.6,133.2 L82.7,132.5 L82.9,131.7 L83.0,130.9 L83.2,130.1 L83.3,129.3 L83.5,128.5 L83.6,127.7 L83.7,126.9 L83.9,126.2 L84.0,125.4 L84.2,124.6 L84.3,123.8 L84.4,123.0 L84.6,122.2 L84.7,121.4 L84.9,120.7 L85.0,119.9 L85.2,119.1 L85.3,118.3 L85.4,117.5 L85.6,116.7 L85.7,115.9 L85.9,115.2 L86.0,114.4 L86.2,113.6 L86.3,112.8 L86.4,112.0 L86.6,111.2 L86.7,110.4 L86.9,109.7 L87.0,108.9 L87.2,108.1 L87.3,107.3 L87.5,106.5 L87.6,105.7 L87.8,104.9 L87.9,104.2 L88.1,103.4 L88.2,102.6 L88.4,101.8 L88.5,101.0 L88.7,100.2 L88.8,99.4 L89.0,98.7 L89.1,97.9 L89.3,97.1 L89.4,96.3 L89.6,95.5 L89.7,94.7 L89.9,93.9 L90.1,93.2 L90.2,92.4 L90.4,91.6 L90.5,90.8 L90.7,90.0 L90.9,89.2 L91.0,88.4 L91.2,87.7 L91.4,86.9 L91.5,86.1 L91.7,85.3 L91.9,84.5 L92.0,83.7 L92.2,82.9 L92.4,82.1 L92.5,81.4 L92.7,80.6 L92.9,79.8 L93.1,79.0 L93.3,78.2 L93.4,77.4 L93.6,76.6 L93.8,75.8 L94.0,75.1 L94.2,74.3 L94.4,73.5 L94.5,72.7 L94.7,71.9 L94.9,71.1 L95.1,70.3 L95.3,69.5 L95.5,68.8 L95.7,68.0 L95.9,67.2 L96.1,66.4 L96.3,65.6 L96.5,64.8 L96.7,64.0 L96.9,63.2 L97.1,62.4 L97.3,61.7 L97.6,60.9 L97.8,60.1 L98.0,59.3 L98.2,58.5 L98.4,57.7 L98.7,56.9 L98.9,56.2 L99.2,55.4 L99.4,54.6 L99.7,53.8 L99.9,53.1 L100.2,52.3 L100.5,51.6 L100.8,50.8 L101.1,50.1 L101.4,49.3 L101.7,48.6 L102.0,47.9 L102.4,47.2 L102.7,46.5 L103.1,45.8 L103.5,45.1 L103.9,44.4 L104.3,43.7 L104.7,43.1 L105.2,42.4 L105.6,41.8 L106.1,41.1 L106.6,40.5 L107.1,39.9 L107.7,39.3 L108.2,38.8 L108.8,38.2 L109.5,37.7 L110.1,37.2 L110.8,36.7 L111.4,36.3 L112.1,35.9 L112.8,35.6 L113.6,35.3 L114.3,35.1 L115.1,34.9 L115.9,34.7 L116.6,34.5 L117.4,34.4 L118.2,34.3 L119.0,34.1 L119.8,34.0 L120.6,33.8 L121.4,33.7 L122.2,33.5 L123.0,33.4 L123.9,33.2 L124.7,33.1 L125.5,33.0 L126.3,32.9 L127.1,32.8 L127.9,32.7 L128.6,32.6 L129.4,32.5 L130.2,32.5 L131.0,32.5 L131.5,32.5 L132.0,32.5 L132.5,32.5 L133.0,32.5 L133.5,32.5 L134.0,32.5 L134.5,32.5 L135.0,32.5 L135.5,32.5 L136.0,32.5 L136.5,32.5 L137.0,32.5 L137.5,32.5 L138.0,32.4 L138.5,32.2 L139.0,31.8 L139.5,31.6 L140.0,31.5 L140.5,31.5 L141.0,31.5 L141.5,31.5 L142.0,31.5 L142.5,31.5 L143.0,31.5 L143.5,31.5 L144.0,31.5 L144.5,31.5 L145.0,31.5 L145.5,31.5 L146.0,31.5 L146.5,31.5 L147.0,31.5 L147.5,31.5 L148.0,31.5 L148.5,31.5 L149.0,31.5 L149.5,31.6 L150.0,31.8 L150.5,32.2 L151.0,32.4 L151.5,32.5 L152.0,32.5 L152.5,32.5 L153.0,32.5 L153.5,32.5 L154.0,32.5 L154.5,32.5 L155.0,32.5 L155.5,32.5 L156.0,32.5 L156.5,32.5 L157.0,32.5 L157.5,32.5 L158.0,32.5 L158.5,32.5 L159.0,32.5 L159.5,32.5 L160.0,32.5 L160.5,32.5 L161.0,32.5 L161.5,32.5 L162.0,32.5 L162.5,32.5 L163.0,32.5 L163.5,32.5 L164.0,32.5 L164.5,32.5 L165.0,32.5 L165.5,32.5 L166.0,32.4 L166.5,32.2 L167.0,31.8 L167.5,31.6 L168.0,31.5 L168.5,31.5 L169.0,31.5 L169.5,31.5 L170.0,31.5 L170.5,31.5 L171.0,31.6 L171.5,31.8 L172.0,32.2 L172.5,32.4 L173.0,32.5 L173.5,32.5 L174.0,32.5 L174.5,32.5 L175.0,32.5 L175.5,32.5 L176.0,32.5 L176.5,32.5 L177.0,32.5 L177.5,32.4 L178.0,32.2 L178.5,31.9 L179.0,31.7 L179.5,31.6 L180.0,31.7 L180.5,31.9 L181.0,32.2 L181.5,32.4 L182.0,32.5 L182.5,32.5 L183.0,32.5 L183.5,32.5 L184.0,32.5 L184.5,32.5 L185.0,32.5 L185.5,32.5 L186.0,32.5 L186.5,32.5 L187.0,32.5 L187.5,32.5 L188.0,32.5 L188.5,32.5 L189.0,32.5 L189.5,32.5 L190.0,32.5 L190.5,32.5 L191.0,32.5 L191.5,32.5 L192.0,32.5 L192.5,32.5 L193.0,32.5 L193.5,32.5 L194.0,32.5 L194.5,32.5 L195.0,32.5 L195.5,32.5 L196.0,32.5 L196.5,32.5 L197.0,32.6 L197.5,32.8 L198.0,33.1 L198.5,33.3 L199.0,33.4 L199.5,33.4 L200.0,33.4 L200.5,33.4 L201.0,33.4 L201.5,33.3 L202.0,33.1 L202.5,32.8 L203.0,32.6 L203.5,32.5 L204.0,32.5 L204.5,32.5 L205.0,32.5 L205.5,32.5 L206.0,32.5 L206.5,32.5 L207.0,32.5 L207.5,32.5 L208.0,32.5 L208.5,32.5 L209.0,32.5 L209.5,32.5 L210.0,32.5 L210.5,32.5 L211.0,32.5 L211.5,32.5 L212.0,32.5 L212.5,32.5 L213.0,32.5 L213.5,32.5 L214.0,32.5 L214.5,32.5 L215.0,32.5 L215.5,32.5 L216.0,32.5 L216.5,32.5 L217.0,32.5 L217.5,32.5 L218.0,32.5 L218.5,32.5 L219.0,32.5 L219.5,32.5 L220.0,32.5 L220.5,32.5 L221.0,32.5 L221.5,32.5 L222.0,32.5 L222.5,32.5 L223.0,32.5 L223.5,32.5 L224.0,32.5 L224.5,32.5 L225.0,32.5 L225.5,32.5 L226.0,32.5 L226.5,32.5 L227.0,32.4 L227.5,32.2 L228.0,31.8 L228.5,31.6 L229.0,31.5 L229.5,31.5 L230.0,31.5 L230.5,31.5 L231.0,31.5 L231.5,31.5 L232.0,31.5 L232.5,31.5 L233.0,31.5 L233.5,31.6 L234.0,31.8 L234.5,32.2 L235.0,32.4 L235.5,32.5 L236.0,32.5 L236.5,32.5 L237.0,32.5 L237.5,32.5 L238.0,32.5 L238.5,32.5 L239.0,32.5 L239.5,32.5 L240.0,32.5 L240.5,32.5 L241.0,32.5 L241.5,32.5 L242.0,32.5 L242.5,32.5 L243.0,32.5 L243.5,32.5 L244.0,32.5 L244.5,32.5 L245.0,32.5 L245.5,32.5 L246.0,32.5 L246.5,32.5 L247.0,32.5 L247.5,32.5 L248.0,32.5 L248.5,32.6 L249.0,32.8 L249.5,33.0 L250.0,33.2 L250.5,33.3 L251.0,33.3 L251.5,33.3 L252.0,33.3 L252.5,33.3 L253.0,33.2 L253.5,33.0 L254.0,32.8 L254.5,32.6 L255.0,32.5 L255.5,32.5 L256.0,32.5 L256.5,32.5 L257.0,32.5 L257.5,32.5 L258.0,32.5 L258.5,32.5 L259.0,32.5 L259.5,32.4 L260.0,32.2 L260.5,31.8 L261.0,31.6 L261.5,31.5 L262.0,31.5 L262.5,31.5 L263.0,31.5 L263.5,31.5 L264.0,31.5 L264.5,31.5 L265.0,31.5 L265.5,31.5 L266.0,31.5 L266.5,31.6 L267.0,31.8 L267.5,32.2 L268.0,32.4 L268.5,32.5 L269.0,32.5 L269.5,32.5 L270.0,32.5 L270.5,32.5 L271.0,32.5 L271.5,32.5 L272.0,32.5 L272.5,32.5 L273.0,32.5 L273.5,32.5 L274.0,32.5 L274.5,32.5 L275.0,32.5 L275.5,32.5 L276.0,32.5 L276.5,32.5 L277.0,32.5 L277.5,32.5 L278.0,32.5 L278.5,32.5 L279.0,32.5 L279.5,32.5 L280.0,32.5 L280.5,32.5 L281.0,32.5 L281.5,32.5 L282.0,32.5 L282.5,32.5 L283.0,32.5 L283.5,32.5 L284.0,32.5 L284.5,32.5 L285.0,32.5 L285.5,32.5 L286.0,32.4 L286.5,32.2 L287.0,31.8 L287.5,31.6 L288.0,31.5 L288.5,31.5 L289.0,31.5 L289.5,31.5 L290.0,31.5 L290.5,31.5 L291.0,31.5 L291.5,31.5 L292.0,31.5 L292.5,31.6 L293.0,31.8 L293.5,32.2 L294.0,32.4 L294.5,32.5 L295.0,32.5 L295.5,32.5 L296.0,32.5 L296.5,32.5 L297.0,32.5 L297.5,32.5 L298.0,32.5 L298.5,32.5 L299.0,32.5 L299.5,32.5 L300.0,32.5 L300.5,32.5 L301.0,32.5 L301.5,32.5 L302.0,32.5 L302.5,32.5 L303.0,32.5 L303.5,32.5 L304.0,32.5 L304.5,32.5 L305.0,32.5 L305.5,32.5 L306.0,32.5 L306.5,32.5 L307.0,32.5 L307.5,32.5 L308.0,32.5 L308.5,32.5 L309.0,32.5 L309.5,32.5 L310.0,32.5 L310.5,32.5 L311.0,32.5 L311.5,32.5 L312.0,32.6 L312.5,32.7 L313.0,32.8 L313.5,32.9 L314.0,33.0 L314.5,32.9 L315.0,32.8 L315.5,32.7 L316.0,32.6 L316.5,32.5 L317.0,32.5 L317.5,32.5 L318.0,32.5 L318.5,32.5 L319.0,32.5 L319.5,32.5 L320.0,32.5 L320.5,32.5 L321.0,32.5 L321.5,32.5 L322.0,32.5 L322.5,32.5 L323.0,32.5 L323.5,32.5 L324.0,32.5 L324.5,32.5 L325.0,32.5 L325.5,32.5 L326.0,32.5 L326.5,32.5 L327.0,32.5 L327.5,32.5 L328.0,32.5 L328.5,32.5 L329.0,32.5 L329.5,32.5 L330.0,32.5 L330.5,32.5 L331.0,32.5 L331.5,32.5 L332.0,32.5 L332.5,32.5 L333.0,32.5 L333.5,32.4 L334.0,32.2 L334.5,31.8 L335.0,31.6 L335.5,31.5 L336.0,31.5 L336.5,31.5 L337.0,31.5 L337.5,31.5 L338.0,31.5 L338.5,31.5 L339.0,31.5 L339.5,31.5 L340.0,31.6 L340.5,31.8 L341.0,32.2 L341.5,32.4 L342.0,32.5 L342.5,32.5 L343.0,32.5 L343.5,32.5 L344.0,32.5 L344.5,32.5 L345.0,32.5 L345.5,32.5 L346.0,32.5 L346.5,32.5 L347.0,32.5 L347.5,32.5 L348.0,32.5 L348.5,32.5 L349.0,32.5 L349.5,32.5 L350.0,32.5 L350.5,32.5 L351.0,32.5 L351.5,32.5 L352.0,32.5 L352.5,32.5 L353.0,32.5 L353.5,32.5 L354.0,32.5 L354.5,32.5 L355.0,32.5 L355.5,32.5 L356.0,32.5 L356.5,32.5 L357.0,32.5 L357.5,32.5 L358.0,32.5 L358.5,32.5 L359.0,32.5 L359.5,32.5 L360.0,32.5 L360.5,32.5 L361.0,32.5 L361.5,32.5 L362.0,32.5 L362.5,32.5 L363.0,32.5 L363.5,32.5 L364.0,32.5 L364.5,32.5 L365.0,32.5 L365.5,32.5 L366.0,32.5 L366.5,32.5 L367.0,32.5 L367.5,32.5 L368.0,32.4 L368.5,32.3 L369.0,32.0 L369.5,31.9 L370.0,31.8 L370.5,31.9 L371.0,32.0 L371.5,32.3 L372.0,32.4 L372.5,32.5 L373.0,32.5 L373.5,32.5 L374.0,32.5 L374.5,32.5 L375.0,32.5 L375.5,32.5 L376.0,32.5 L376.5,32.5 L377.0,32.5 L377.5,32.5 L378.0,32.5" stroke="#ff0000" stroke-width="0.58"  fill="none" stroke-linejoin="round"/>
<path d="M109.20,241.9 v-3.6 M109.20,22.95 v3.6 M176.40,241.9 v-3.6 M176.40,22.95 v3.6 M243.60,241.9 v-3.6 M243.60,22.95 v3.6 M310.80,241.9 v-3.6 M310.80,22.95 v3.6 M42.0,214.53 h3.6 M378.0,214.53 h-3.6 M42.0,187.16 h3.6 M378.0,187.16 h-3.6 M42.0,159.79 h3.6 M378.0,159.79 h-3.6 M42.0,132.43 h3.6 M378.0,132.43 h-3.6 M42.0,105.06 h3.6 M378.0,105.06 h-3.6 M42.0,77.69 h3.6 M378.0,77.69 h-3.6 M42.0,50.32 h3.6 M378.0,50.32 h-3.6 " stroke="#000" stroke-width="0.75" fill="none"/>
<rect x="42.0" y="22.95" width="336.00" height="218.95" fill="none" stroke="#000" stroke-width="0.9"/>
<path d="M41.55,241.85 H378.45" stroke="#000" stroke-width="0.3" fill="none"/>
</svg>
</body></html>
